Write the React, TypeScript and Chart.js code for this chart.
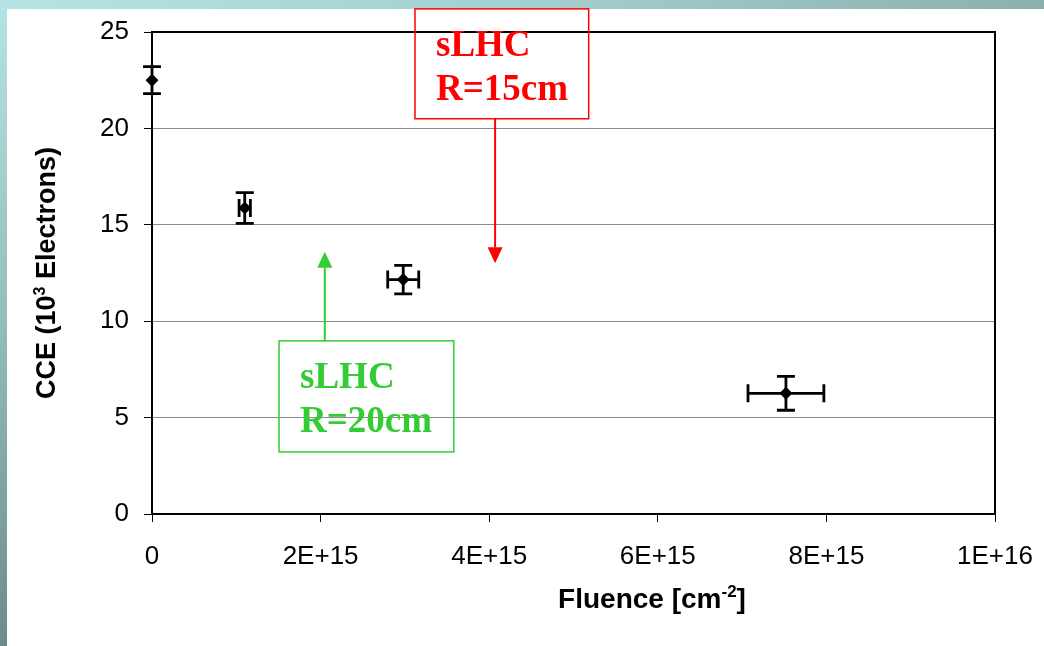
import React, { useEffect, useRef } from 'react';
import { Chart, registerables } from 'chart.js';

Chart.register(...registerables);

// ---- Data ----
const fluence = [0, 1.1e15, 2.98e15, 7.52e15];
const cce = [22.5, 15.87, 12.16, 6.26];
const cceErr = [0.7, 0.8, 0.74, 0.88];
const fluenceErr = [0, 0.067e15, 0.184e15, 0.45e15];
const xTickLabels = ['0', '2E+15', '4E+15', '6E+15', '8E+15', '1E+16'];
const yTickLabels = ['0', '5', '10', '15', '20', '25'];

// annotation boxes (in data units)
const annotations = [
  { color: '#ff0000', x1: 3.12e15, x2: 5.18e15, yTop: 26.2, yBottom: 20.5, arrowX: 4.07e15, arrowTip: 13.0, up: false, lines: ['sLHC', 'R=15cm'] },
  { color: '#33cc33', x1: 1.507e15, x2: 3.58e15, yTop: 8.98, yBottom: 3.22, arrowX: 2.05e15, arrowTip: 13.6, up: true, lines: ['sLHC', 'R=20cm'] },
];

const SANS = '"Liberation Sans", Arial, Helvetica, sans-serif';
const SERIF = '"Liberation Serif", "Times New Roman", serif';

type Piece = { t: string; sup?: boolean };

function drawPieces(ctx: CanvasRenderingContext2D, x: number, y: number, pieces: Piece[], size: number) {
  let cx = x;
  for (const p of pieces) {
    ctx.font = `bold ${p.sup ? Math.round(size * 0.6) : size}px ${SANS}`;
    ctx.fillText(p.t, cx, p.sup ? y - size * 0.38 : y);
    cx += ctx.measureText(p.t).width;
  }
  return cx - x;
}
function measurePieces(ctx: CanvasRenderingContext2D, pieces: Piece[], size: number) {
  let w = 0;
  for (const p of pieces) {
    ctx.font = `bold ${p.sup ? Math.round(size * 0.6) : size}px ${SANS}`;
    w += ctx.measureText(p.t).width;
  }
  return w;
}

const overlay = {
  id: 'overlay',
  beforeDatasetsDraw(chart: any) {
    const { ctx, scales } = chart;
    const xs = scales.x, ys = scales.y;
    ctx.save();
    ctx.strokeStyle = '#000';
    ctx.lineWidth = 2.8;
    const cap = 9;
    for (let i = 0; i < fluence.length; i++) {
      const px = xs.getPixelForValue(fluence[i]);
      const py = ys.getPixelForValue(cce[i]);
      const y1 = ys.getPixelForValue(cce[i] + cceErr[i]);
      const y2 = ys.getPixelForValue(cce[i] - cceErr[i]);
      ctx.beginPath();
      ctx.moveTo(px, y1); ctx.lineTo(px, y2);
      ctx.moveTo(px - cap, y1); ctx.lineTo(px + cap, y1);
      ctx.moveTo(px - cap, y2); ctx.lineTo(px + cap, y2);
      if (fluenceErr[i] > 0) {
        const x1 = xs.getPixelForValue(fluence[i] - fluenceErr[i]);
        const x2 = xs.getPixelForValue(fluence[i] + fluenceErr[i]);
        ctx.moveTo(x1, py); ctx.lineTo(x2, py);
        ctx.moveTo(x1, py - cap); ctx.lineTo(x1, py + cap);
        ctx.moveTo(x2, py - cap); ctx.lineTo(x2, py + cap);
      }
      ctx.stroke();
    }
    ctx.restore();
  },
  afterDraw(chart: any) {
    const { ctx, chartArea, scales } = chart;
    const xs = scales.x, ys = scales.y;
    ctx.save();
    // top & right border
    ctx.strokeStyle = '#000';
    ctx.lineWidth = 2;
    ctx.beginPath();
    ctx.moveTo(chartArea.left, chartArea.top);
    ctx.lineTo(chartArea.right, chartArea.top);
    ctx.lineTo(chartArea.right, chartArea.bottom);
    ctx.stroke();

    // axis titles
    ctx.fillStyle = '#000';
    ctx.textBaseline = 'alphabetic';
    ctx.textAlign = 'left';
    const xt: Piece[] = [{ t: 'Fluence [cm' }, { t: '-2', sup: true }, { t: ']' }];
    const xw = measurePieces(ctx, xt, 28);
    drawPieces(ctx, 652 - xw / 2, 608, xt, 28);

    const yt: Piece[] = [{ t: 'CCE (10' }, { t: '3', sup: true }, { t: ' Electrons)' }];
    const yw = measurePieces(ctx, yt, 27);
    ctx.save();
    ctx.translate(55, (chartArea.top + chartArea.bottom) / 2);
    ctx.rotate(-Math.PI / 2);
    drawPieces(ctx, -yw / 2, 0, yt, 27);
    ctx.restore();

    // annotations
    for (const a of annotations) {
      const bx1 = xs.getPixelForValue(a.x1);
      const bx2 = xs.getPixelForValue(a.x2);
      const by1 = ys.getPixelForValue(a.yTop);
      const by2 = ys.getPixelForValue(a.yBottom);
      ctx.strokeStyle = a.color;
      ctx.fillStyle = a.color;
      ctx.lineWidth = 1.5;
      ctx.strokeRect(bx1, by1, bx2 - bx1, by2 - by1);
      ctx.font = `bold 37px ${SERIF}`;
      ctx.textAlign = 'left';
      ctx.fillText(a.lines[0], bx1 + 21, by1 + 47);
      ctx.fillText(a.lines[1], bx1 + 21, by1 + 91);
      const ax = xs.getPixelForValue(a.arrowX);
      const tip = ys.getPixelForValue(a.arrowTip);
      const start = a.up ? by1 : by2;
      const dir = a.up ? 1 : -1;
      const headLen = 16, headHalf = 7.5;
      ctx.lineWidth = 2;
      ctx.beginPath();
      ctx.moveTo(ax, start);
      ctx.lineTo(ax, tip + dir * headLen);
      ctx.stroke();
      ctx.beginPath();
      ctx.moveTo(ax, tip);
      ctx.lineTo(ax - headHalf, tip + dir * headLen);
      ctx.lineTo(ax + headHalf, tip + dir * headLen);
      ctx.closePath();
      ctx.fill();
    }
    ctx.restore();
  },
};

export default function App() {
  const ref = useRef<HTMLCanvasElement | null>(null);
  useEffect(() => {
    if (!ref.current) return;
    const chart = new Chart(ref.current, {
      type: 'scatter',
      data: {
        datasets: [
          {
            data: fluence.map((f, i) => ({ x: f, y: cce[i] })),
            pointStyle: 'rectRot',
            pointRadius: 6.5,
            backgroundColor: '#000',
            borderColor: '#000',
            borderWidth: 0,
            showLine: false,
            clip: false as any,
          },
        ],
      },
      options: {
        responsive: false,
        devicePixelRatio: 1,
        animation: false,
        events: [],
        layout: { padding: { left: 0, top: 32, right: 49, bottom: 0 } },
        plugins: { legend: { display: false }, tooltip: { enabled: false }, title: { display: false } },
        scales: {
          x: {
            type: 'linear',
            min: 0,
            max: 1e16,
            afterFit: (s: any) => { s.height = 132; s.paddingLeft = 0; s.paddingRight = 0; },
            ticks: {
              stepSize: 2e15,
              padding: 19,
              maxRotation: 0,
              autoSkip: false,
              color: '#000',
              font: { family: SANS, size: 26 },
              callback: (_v: any, i: number) => xTickLabels[i],
            },
            grid: { drawOnChartArea: false, tickLength: 8, tickColor: '#000', tickWidth: 1 },
            border: { color: '#000', width: 2 },
          },
          y: {
            type: 'linear',
            min: 0,
            max: 25,
            afterFit: (s: any) => { s.width = 152; s.paddingTop = 0; s.paddingBottom = 0; },
            ticks: {
              stepSize: 5,
              padding: 15,
              color: '#000',
              font: { family: SANS, size: 26 },
              callback: (_v: any, i: number) => yTickLabels[i],
            },
            grid: {
              color: (c: any) => (c.tick && (c.tick.value === 0 || c.tick.value === 25) ? 'rgba(0,0,0,0)' : '#8a8a8a'),
              lineWidth: 1,
              tickLength: 8,
              tickColor: '#000',
              tickWidth: 1,
            },
            border: { color: '#000', width: 2 },
          },
        },
      },
      plugins: [overlay],
    });
    return () => chart.destroy();
  }, []);

  return (
    <div style={{ position: 'fixed', left: 0, top: 0, width: 1044, height: 646, overflow: 'hidden', background: '#ffffff' }}>
      <div style={{ position: 'absolute', left: 0, top: 0, width: 1044, height: 9, background: 'linear-gradient(to right, #b4e4e4, #a4d0cf 50%, #8cb0ad)' }} />
      <div style={{ position: 'absolute', left: 0, top: 0, width: 7, height: 646, background: 'linear-gradient(to bottom, #b4e4e4, #94bcbc 50%, #6c8c8c)' }} />
      <canvas ref={ref} width={1044} height={646} style={{ position: 'absolute', left: 0, top: 0, width: 1044, height: 646 }} />
    </div>
  );
}
